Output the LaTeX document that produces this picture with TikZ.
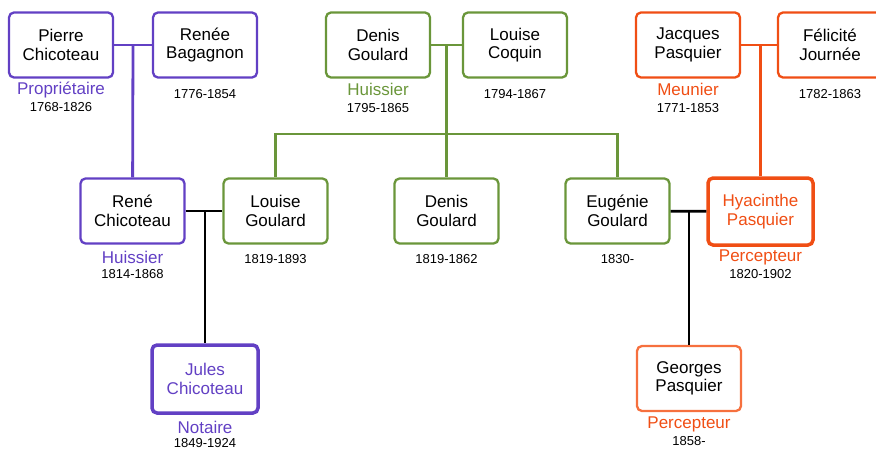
\documentclass[tikz,border=0pt]{standalone}
\usepackage{fontspec}
\setmainfont{Liberation Sans}
\usepackage{tikz}

\definecolor{chicPurple}{RGB}{98,64,196}
\definecolor{goulGreen}{RGB}{106,150,58}
\definecolor{pasqOrange}{RGB}{240,78,20}
\definecolor{pasqLight}{RGB}{246,112,62}

\begin{document}
\begin{tikzpicture}[x=1pt, y=-1pt,
        person/.style={rectangle, draw=#1, fill=white, text=black, rounded corners=5pt, line width=2.3pt,
            minimum width=104pt, minimum height=65pt, align=center, inner sep=0pt,
            font=\fontsize{17}{18.5}\selectfont},
        bold/.style={line width=3.5pt},
        job/.style={inner sep=0pt, font=\fontsize{17}{17}\selectfont},
        years/.style={inner sep=0pt, font=\fontsize{13}{13}\selectfont},
        link/.style={line width=2.8pt}]
        \useasboundingbox (0,0) rectangle (876,450);

        % top row
        \node[person=chicPurple] (pierre) at (61,45) {Pierre\\Chicoteau};
        \node[person=chicPurple] (renee) at (205,45) {Renée\\Bagagnon};
        \node[person=goulGreen] (denisS) at (378,45) {Denis\\Goulard};
        \node[person=goulGreen] (louiseC) at (515,45) {Louise\\Coquin};
        \node[person=pasqOrange] (jacques) at (688,45) {Jacques\\Pasquier};
        \node[person=pasqOrange] (felicite) at (830,45) {Félicité\\Journée};

        % middle row
        \node[person=chicPurple] (rene) at (132.5,211) {René\\Chicoteau};
        \node[person=goulGreen] (louiseG) at (275.5,211) {Louise\\Goulard};
        \node[person=goulGreen] (denisG) at (446.5,211) {Denis\\Goulard};
        \node[person=goulGreen] (eugenie) at (617.5,211) {Eugénie\\Goulard};
        \node[person=pasqOrange, bold, text=pasqOrange, minimum width=105pt, minimum height=67pt] (hyacinthe) at (760.5,211.5) {Hyacinthe\\Pasquier};

        % bottom row
        \node[person=chicPurple, bold, text=chicPurple, minimum width=106pt, minimum height=68pt] (jules) at (205,379) {Jules\\Chicoteau};
        \node[person=pasqLight] (georges) at (689,378.5) {Georges\\Pasquier};

        % jobs and years
        \node[job, chicPurple] (pierreJob) at (pierre.south) [yshift=-11pt] {Propriétaire};
        \node[years] (pierreYears) at (pierreJob) [yshift=-17pt] {1768-1826};
        \node[years] (reneeYears) at (renee.south) [yshift=-15pt] {1776-1854};
        \node[job, goulGreen] (denisSJob) at (denisS.south) [yshift=-11pt] {Huissier};
        \node[years] (denisSYears) at (denisSJob) [yshift=-18pt] {1795-1865};
        \node[years] (louiseCYears) at (louiseC.south) [yshift=-15pt] {1794-1867};
        \node[job, pasqOrange] (jacquesJob) at (jacques.south) [yshift=-11pt] {Meunier};
        \node[years] (jacquesYears) at (jacquesJob) [yshift=-18pt] {1771-1853};
        \node[years] (feliciteYears) at (felicite.south) [yshift=-15pt] {1782-1863};

        \node[job, chicPurple] (reneJob) at (rene.south) [yshift=-13pt] {Huissier};
        \node[years] (reneYears) at (reneJob) [yshift=-16pt] {1814-1868};
        \node[years] (louiseGYears) at (louiseG.south) [yshift=-14pt] {1819-1893};
        \node[years] (denisGYears) at (denisG.south) [yshift=-14pt] {1819-1862};
        \node[years] (eugenieYears) at (eugenie.south) [yshift=-14pt] {1830-};
        \node[job, pasqOrange] (hyacintheJob) at (hyacinthe.south) [yshift=-11pt] {Percepteur};
        \node[years] (hyacintheYears) at (hyacintheJob) [yshift=-16pt] {1820-1902};

        \node[job, chicPurple] (julesJob) at (jules.south) [yshift=-13pt] {Notaire};
        \node[years] (julesYears) at (julesJob) [yshift=-15pt] {1849-1924};
        \node[job, pasqOrange] (georgesJob) at (georges.south) [yshift=-12pt] {Percepteur};
        \node[years] (georgesYears) at (georgesJob) [yshift=-17pt] {1858-};

        % couples and children
        \coordinate (chicMid) at (133,45);
        \coordinate (goulMid) at (446.5,45);
        \coordinate (goulBar) at (446.5,134);
        \coordinate (pasqMid) at (760.5,45);
        \coordinate (reneMid) at (205,211);
        \coordinate (eugMid) at (689,211);

        \draw[link, chicPurple] (pierre) -- (renee);
        \draw[link, chicPurple] (chicMid) -- (rene);
        \draw[link, goulGreen] (denisS) -- (louiseC);
        \draw[link, goulGreen] (goulMid) -- (denisG);
        \draw[link, goulGreen] (louiseG.north) |- (goulBar) -| (eugenie.north);
        \draw[link, pasqOrange] (jacques) -- (felicite);
        \draw[link, pasqOrange] (pasqMid) -- (hyacinthe);
        \draw[link, black] (rene) -- (louiseG);
        \draw[link, black] (reneMid) -- (jules);
        \draw[link, black] (eugenie) -- (hyacinthe);
        \draw[link, black] (eugMid) -- (georges);
    \end{tikzpicture}
\end{document}
